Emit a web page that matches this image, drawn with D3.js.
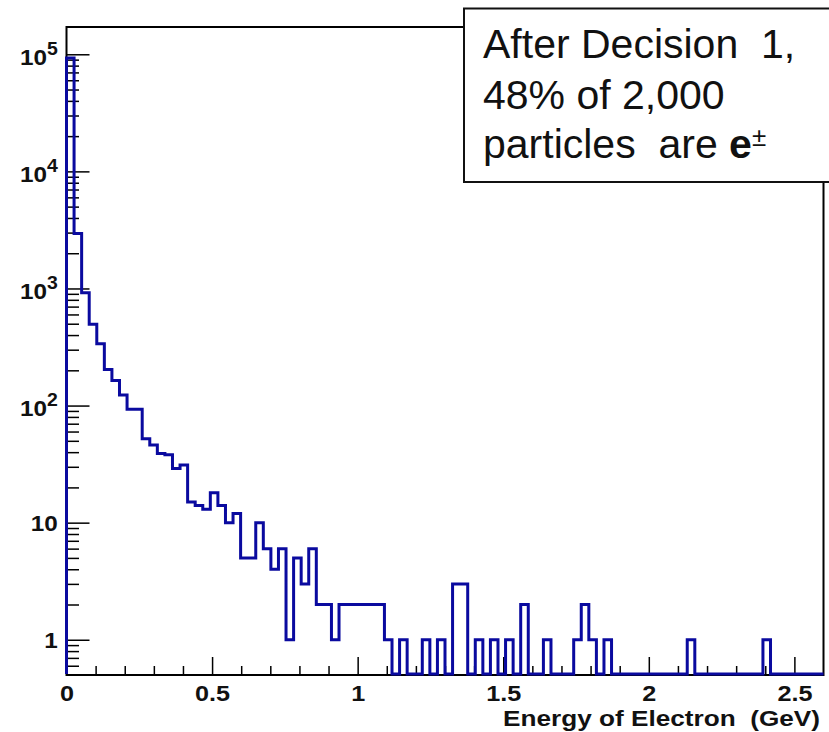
<!DOCTYPE html>
<html><head><meta charset="utf-8">
<script src="https://cdn.jsdelivr.net/npm/d3@7"></script>
<style>body{margin:0;background:#fff} svg{display:block}</style>
</head><body>
<svg id="c" width="829" height="732"></svg>
<script>
// ---------- data ----------
const histRange = [0, 2.6];          // GeV, 100 bins
const counts = [
  93000, 2950, 920, 495, 338, 203, 164, 123, 93, 93,
  52, 46, 39, 38, 29, 31, 15, 14, 13, 18,
  14, 10, 12, 5, 5, 10, 6, 4, 6, 1,
  5, 3, 6, 2, 2, 1, 2, 2, 2, 2,
  2, 2, 1, 0, 1, 0, 0, 1, 0, 1,
  0, 3, 3, 0, 1, 0, 1, 0, 1, 0,
  2, 0, 0, 1, 0, 0, 0, 1, 2, 1,
  0, 1, 0, 0, 0, 0, 0, 0, 0, 0,
  0, 0, 1, 0, 0, 0, 0, 0, 0, 0,
  0, 0, 1, 0, 0, 0, 0, 0, 0, 0
];
const yRange = [0.5, 171000];
const xMajorTicks = [0, 0.5, 1, 1.5, 2, 2.5];
const xTickLabels = ["0", "0.5", "1", "1.5", "2", "2.5"];
const yMajorTicks = [1, 10, 100, 1000, 10000, 100000];
const yTickBase = ["1", "10", "10", "10", "10", "10"];
const yTickExp = ["", "", "2", "3", "4", "5"];
const xTitle = "Energy of Electron  (GeV)";
const legendLines = ["After Decision  1,", "48% of 2,000", "particles  are "];

// ---------- layout ----------
const L = 66.5, R = 823.5, T = 27, B = 675;
const svg = d3.select("#c");
const FONT = "'Liberation Sans', Arial, Helvetica, sans-serif";

const x = d3.scaleLinear().domain(histRange).range([L, R]);
const y = d3.scaleLog().domain(yRange).range([B, T]);

const xMinorTicks = d3.range(1, 26).map(i => i / 10).filter(v => Math.abs(v * 2 - Math.round(v * 2)) > 1e-9);
const yMinorTicks = [0.6, 0.7, 0.8, 0.9];
[1, 10, 100, 1000, 10000].forEach(d => { for (let k = 2; k <= 9; k++) yMinorTicks.push(k * d); });

// frame
svg.append("rect").attr("x", L).attr("y", T).attr("width", R - L).attr("height", B - T)
  .attr("fill", "none").attr("stroke", "#000").attr("stroke-width", 2);

// x axis
const gxMinor = svg.append("g").attr("transform", `translate(0,${B})`).attr("color", "#000")
  .call(d3.axisBottom(x).tickValues(xMinorTicks).tickSize(-9).tickFormat(""));
gxMinor.select(".domain").remove();
gxMinor.selectAll("line").attr("stroke-width", 1.5);
const gx = svg.append("g").attr("transform", `translate(0,${B})`).attr("color", "#000")
  .call(d3.axisBottom(x).tickValues(xMajorTicks).tickSize(-18).tickFormat((d, i) => xTickLabels[i]));
gx.select(".domain").remove();
gx.selectAll("line").attr("stroke-width", 1.5);
gx.selectAll("text").attr("y", 26).attr("dy", 0)
  .attr("font-family", FONT).attr("font-weight", "bold").attr("font-size", 22.5)
  .attr("fill", "#111").attr("transform", "scale(1.12,1)");

// y axis
const gyMinor = svg.append("g").attr("transform", `translate(${L},0)`).attr("color", "#000")
  .call(d3.axisLeft(y).tickValues(yMinorTicks).tickSize(-12.5).tickFormat(""));
gyMinor.select(".domain").remove();
gyMinor.selectAll("line").attr("stroke-width", 1.5);
const gy = svg.append("g").attr("transform", `translate(${L},0)`).attr("color", "#000")
  .call(d3.axisLeft(y).tickValues(yMajorTicks).tickSize(-23).tickPadding(8).tickFormat((d, i) => yTickBase[i]));
gy.select(".domain").remove();
gy.selectAll("line").attr("stroke-width", 1.5);
gy.selectAll("text")
  .attr("font-family", FONT).attr("font-weight", "bold").attr("font-size", 22.5)
  .attr("fill", "#111").attr("dy", "0.36em").attr("transform", "scale(1.08,1)")
  .each(function (d, i) {
    if (yTickExp[i]) {
      const t = d3.select(this).attr("dy", "0.45em");
      t.append("tspan").attr("dy", -10).attr("font-size", 18).text(yTickExp[i]);
    }
  });

// histogram
const nb = counts.length;
const bw = (histRange[1] - histRange[0]) / nb;
const pts = [[histRange[0], 0]];
counts.forEach((c, i) => {
  pts.push([histRange[0] + i * bw, c]);
  pts.push([histRange[0] + (i + 1) * bw, c]);
});
pts.push([histRange[1], 0]);
const yc = v => v > 0 ? y(Math.min(v, yRange[1])) : B - 1;
svg.append("path").datum(pts)
  .attr("d", d3.line().x(d => x(d[0])).y(d => yc(d[1])))
  .attr("fill", "none").attr("stroke", "#0a0a9f").attr("stroke-width", 3)
  .attr("stroke-linejoin", "miter");

// x title
svg.append("text").attr("x", 503).attr("y", 726)
  .attr("font-family", FONT).attr("font-weight", "bold").attr("font-size", 21.5)
  .attr("fill", "#111").style("white-space", "pre")
  .attr("textLength", 317).attr("lengthAdjust", "spacingAndGlyphs")
  .text(xTitle);

// legend box
svg.append("rect").attr("x", 464).attr("y", 8.5).attr("width", 420).attr("height", 173.5)
  .attr("fill", "#fff").attr("stroke", "#111").attr("stroke-width", 2);
const lg = svg.append("g").attr("font-family", FONT).attr("font-size", 41).attr("fill", "#111");
const baselines = [58, 109, 158];
legendLines.forEach((s, i) => {
  const t = lg.append("text").attr("x", 483).attr("y", baselines[i]).style("white-space", "pre").text(s);
  if (i === 2) {
    t.append("tspan").attr("font-weight", "bold").text("e");
    t.append("tspan").attr("font-size", 26).attr("dy", -12).text("±");
  }
});
</script>
</body></html>
